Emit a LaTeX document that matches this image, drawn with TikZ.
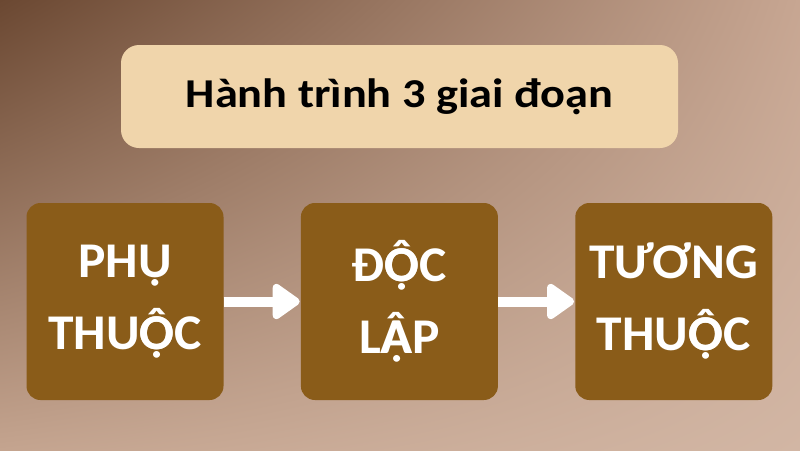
\documentclass[tikz,border=0pt]{standalone}
\usepackage{fontspec}
\setmainfont{Carlito}
\newfontfamily\titlefont[FakeStretch=1.13]{Carlito}
\newfontfamily\stagefont[FakeStretch=1.03]{Carlito}
\usetikzlibrary{arrows.meta,positioning,shadings}
\definecolor{bgdark}{HTML}{6B4832}
\definecolor{bgtopright}{HTML}{C7A692}
\definecolor{bgbotleft}{HTML}{C4A48F}
\definecolor{bgbotright}{HTML}{D2B6A4}
\definecolor{titlebeige}{HTML}{F0D5AB}
\definecolor{stagebrown}{HTML}{8A5C19}
% stacked Vietnamese capitals, built from two glyphs
\newcommand{\Odh}{\rlap{Ô}Ọ}
\newcommand{\Adh}{\rlap{Â}Ạ}
\begin{document}
\begin{tikzpicture}[x=1pt,y=-1pt,
	titlebox/.style={fill=titlebeige,rounded corners=18pt,minimum width=557pt,minimum height=103pt,inner sep=0pt,font=\titlefont\fontsize{41}{48}\selectfont\bfseries},
	stage/.style={fill=stagebrown,rounded corners=14pt,minimum width=197pt,minimum height=197pt,inner sep=0pt,text=white,align=center,font=\stagefont\fontsize{50}{72}\selectfont\bfseries},
	flow/.style={white,line width=10pt,-{Triangle[length=30pt,width=40pt,round]},shorten >=1pt}]
	\useasboundingbox (0,0) rectangle (800,450);
	\shade[upper left=bgdark,upper right=bgtopright,lower left=bgbotleft,lower right=bgbotright] (0,0) rectangle (800,450);
	\node[titlebox] (head) at (399.5,96.5) {Hành trình 3 giai đoạn};
	\node[stage] (dep) at (125,301.5) {PHỤ\\THU\Odh C};
	\node[stage,right=77pt of dep] (indep) {Đ\Odh C\\L\Adh P};
	\node[stage,right=77pt of indep] (inter) {TƯƠNG\\THU\Odh C};
	\draw[flow] (dep) -- (indep);
	\draw[flow] (indep) -- (inter);
\end{tikzpicture}
\end{document}
